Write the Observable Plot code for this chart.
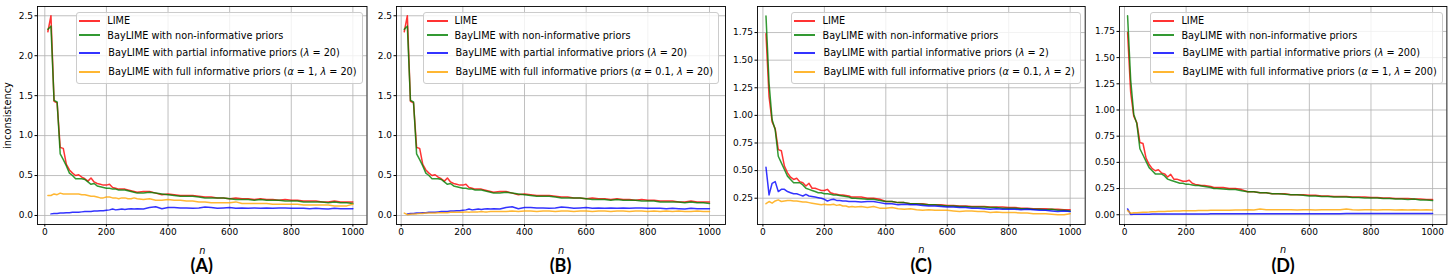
<!DOCTYPE html>
<html><head><meta charset="utf-8">
<script src="https://cdn.jsdelivr.net/npm/d3@7"></script>
<script src="https://cdn.jsdelivr.net/npm/@observablehq/plot@0.6"></script>
<style>
body{margin:0;background:#fff;}
#root{position:relative;width:1450px;height:274px;overflow:hidden;font-family:"DejaVu Sans",sans-serif;background:#fff;}
.panel{position:absolute;top:0;}
.legend{position:absolute;top:11.7px;background:rgba(255,255,255,0.8);border:1px solid #cccccc;border-radius:3px;padding:0 5px 3.4px 2.7px;font-size:9.7px;color:#000;box-sizing:border-box;}
.row{display:flex;align-items:center;white-space:nowrap;}
.swatch{width:21px;height:0;border-top:2px solid;margin-right:7px;opacity:0.8;}
.mi{font-style:italic;}
g[aria-label="x-axis label"] text{font-style:italic;font-size:9.8px;}
g[aria-label="y-axis label"] text{font-size:9.8px;}
#captions{position:absolute;left:0;top:0;}
</style>
</head><body>
<div id="root"></div>
<script>
// sample sizes n
const nValues = [10,20,30,40,50,60,70,80,90,100,110,120,130,140,150,160,170,180,190,200,
  210,220,230,240,250,260,270,280,290,300,
  320,340,360,380,400,420,440,460,480,500,
  520,540,560,580,600,620,640,660,680,700,
  720,740,760,780,800,820,840,860,880,900,
  920,940,960,980,1000];

// Panels A and B share LIME / non-informative / partial series
const limeAB = [2.30,2.50,1.43,1.41,0.85,0.84,0.64,0.57,0.53,0.50,
  0.51,0.48,0.46,0.43,0.47,0.42,0.40,0.39,0.38,0.38,
  0.39,0.35,0.34,0.33,0.33,0.33,0.32,0.31,0.30,0.29,
  0.30,0.30,0.28,0.26,0.27,0.26,0.25,0.25,0.25,0.24,
  0.23,0.23,0.22,0.22,0.21,0.22,0.21,0.21,0.20,0.21,
  0.20,0.20,0.19,0.20,0.19,0.19,0.18,0.18,0.18,0.17,
  0.17,0.18,0.17,0.17,0.17];
const nonInfAB = [2.33,2.37,1.44,1.42,0.77,0.70,0.62,0.53,0.50,0.46,
  0.46,0.46,0.45,0.42,0.39,0.40,0.37,0.36,0.35,0.34,
  0.34,0.33,0.33,0.32,0.32,0.32,0.31,0.30,0.29,0.28,
  0.28,0.29,0.28,0.27,0.26,0.25,0.24,0.24,0.24,0.23,
  0.22,0.22,0.22,0.22,0.21,0.20,0.20,0.20,0.19,0.20,
  0.19,0.19,0.19,0.18,0.18,0.18,0.17,0.17,0.17,0.17,
  0.16,0.17,0.16,0.16,0.15];
const partialAB = [null,0.02,0.025,0.025,0.03,0.03,0.035,0.035,0.04,0.04,
  0.04,0.045,0.05,0.05,0.05,0.055,0.055,0.06,0.06,0.065,
  0.07,0.08,0.07,0.075,0.08,0.075,0.08,0.085,0.08,0.085,
  0.08,0.10,0.11,0.085,0.10,0.10,0.095,0.095,0.09,0.095,
  0.105,0.10,0.09,0.095,0.10,0.09,0.095,0.09,0.095,0.09,
  0.095,0.09,0.095,0.095,0.09,0.09,0.09,0.085,0.09,0.085,
  0.08,0.09,0.085,0.085,0.085];
const fullA = [0.25,0.25,0.27,0.26,0.28,0.27,0.27,0.27,0.27,0.27,
  0.27,0.26,0.26,0.25,0.24,0.24,0.23,0.22,0.22,0.23,
  0.23,0.22,0.22,0.21,0.22,0.22,0.21,0.21,0.22,0.21,
  0.20,0.21,0.19,0.19,0.20,0.19,0.19,0.18,0.18,0.17,
  0.17,0.16,0.16,0.16,0.16,0.17,0.15,0.15,0.15,0.15,
  0.15,0.14,0.14,0.14,0.14,0.14,0.13,0.13,0.13,0.13,
  0.13,0.12,0.12,0.12,0.14];
const fullB = [0.03,0.01,0.015,0.02,0.02,0.025,0.025,0.03,0.03,0.03,
  0.03,0.035,0.035,0.035,0.035,0.04,0.04,0.04,0.04,0.04,
  0.045,0.04,0.045,0.045,0.045,0.05,0.045,0.045,0.05,0.05,
  0.05,0.05,0.055,0.05,0.055,0.055,0.05,0.055,0.055,0.05,
  0.055,0.055,0.05,0.055,0.055,0.05,0.055,0.055,0.05,0.055,
  0.055,0.05,0.055,0.055,0.05,0.055,0.05,0.055,0.05,0.055,
  0.05,0.05,0.055,0.05,0.05];

// Panels C and D share LIME / non-informative series
const limeCD = [1.74,1.17,0.94,0.88,0.69,0.68,0.54,0.48,0.44,0.42,
  0.43,0.40,0.39,0.36,0.385,0.34,0.34,0.33,0.32,0.32,
  0.33,0.30,0.29,0.285,0.28,0.28,0.275,0.27,0.26,0.26,
  0.26,0.25,0.25,0.24,0.22,0.22,0.21,0.21,0.20,0.20,
  0.20,0.19,0.19,0.19,0.185,0.185,0.18,0.18,0.175,0.175,
  0.175,0.17,0.17,0.17,0.165,0.165,0.16,0.16,0.155,0.155,
  0.155,0.15,0.15,0.145,0.145];
const nonInfCD = [1.90,1.29,0.96,0.87,0.63,0.57,0.51,0.45,0.42,0.39,
  0.39,0.39,0.37,0.34,0.33,0.32,0.31,0.30,0.30,0.29,
  0.29,0.285,0.28,0.28,0.275,0.27,0.265,0.26,0.25,0.25,
  0.245,0.24,0.24,0.23,0.22,0.22,0.21,0.21,0.20,0.20,
  0.195,0.19,0.19,0.185,0.18,0.18,0.175,0.175,0.17,0.17,
  0.17,0.165,0.165,0.16,0.16,0.16,0.155,0.155,0.15,0.15,
  0.145,0.15,0.14,0.14,0.135];
const partialC = [0.53,0.28,0.385,0.40,0.31,0.33,0.33,0.31,0.30,0.29,
  0.29,0.28,0.27,0.285,0.27,0.265,0.26,0.255,0.25,0.24,
  0.225,0.235,0.24,0.23,0.23,0.225,0.225,0.22,0.22,0.22,
  0.215,0.22,0.22,0.21,0.20,0.20,0.19,0.195,0.19,0.19,
  0.185,0.18,0.18,0.175,0.17,0.17,0.165,0.165,0.16,0.16,
  0.155,0.15,0.155,0.15,0.15,0.15,0.145,0.15,0.145,0.14,
  0.14,0.135,0.13,0.135,0.13];
const fullC = [0.20,0.22,0.205,0.225,0.235,0.22,0.225,0.23,0.23,0.225,
  0.225,0.22,0.215,0.215,0.21,0.205,0.20,0.195,0.19,0.195,
  0.19,0.19,0.195,0.185,0.19,0.18,0.18,0.17,0.175,0.17,
  0.175,0.165,0.175,0.16,0.16,0.165,0.155,0.15,0.155,0.145,
  0.14,0.145,0.14,0.14,0.14,0.135,0.13,0.135,0.135,0.13,
  0.13,0.12,0.125,0.12,0.12,0.12,0.115,0.115,0.11,0.11,
  0.11,0.105,0.10,0.10,0.11];
const partialD = [0.055,0.003,0.004,0.004,0.005,0.005,0.005,0.005,0.006,0.006,
  0.006,0.006,0.006,0.007,0.007,0.007,0.007,0.007,0.007,0.008,
  0.008,0.008,0.008,0.008,0.008,0.008,0.008,0.009,0.009,0.009,
  0.009,0.009,0.009,0.009,0.009,0.01,0.01,0.01,0.01,0.01,
  0.01,0.01,0.01,0.01,0.01,0.01,0.01,0.01,0.01,0.01,
  0.011,0.011,0.011,0.011,0.011,0.011,0.011,0.011,0.011,0.011,
  0.011,0.011,0.011,0.011,0.011];
const fullD = [0.04,0.015,0.018,0.02,0.022,0.024,0.025,0.026,0.028,0.029,
  0.03,0.031,0.032,0.033,0.034,0.035,0.035,0.036,0.037,0.038,
  0.038,0.039,0.039,0.04,0.04,0.041,0.041,0.042,0.042,0.043,
  0.043,0.044,0.045,0.045,0.047,0.046,0.054,0.047,0.047,0.048,
  0.047,0.048,0.046,0.047,0.048,0.046,0.047,0.047,0.048,0.047,
  0.054,0.047,0.046,0.048,0.047,0.046,0.047,0.047,0.046,0.047,
  0.046,0.047,0.046,0.047,0.046];

// tick labels
const xTicks = [0,200,400,600,800,1000];
const yTicksAB = [0,0.5,1,1.5,2,2.5];
const yTicksC = [0.25,0.5,0.75,1,1.25,1.5,1.75];
const yTicksD = [0,0.25,0.5,0.75,1,1.25,1.5,1.75];
const panelLabels = ["(A)","(B)","(C)","(D)"];
const seriesNames = ["LIME","BayLIME with non-informative priors","BayLIME with partial informative priors","BayLIME with full informative priors"];
const partialParams = [[["i","λ"],["t"," = 20)"]],[["i","λ"],["t"," = 20)"]],[["i","λ"],["t"," = 2)"]],[["i","λ"],["t"," = 200)"]]];
const fullParams = [
  [["i","α"],["t"," = 1, "],["i","λ"],["t"," = 20)"]],
  [["i","α"],["t"," = 0.1, "],["i","λ"],["t"," = 20)"]],
  [["i","α"],["t"," = 0.1, "],["i","λ"],["t"," = 2)"]],
  [["i","α"],["t"," = 1, "],["i","λ"],["t"," = 200)"]]
];
const colors = ["#ff0000","#008000","#0000ff","#ffa500"];

// layout (pixels)
const frames = [
  {l:37, r:366.5, xd:[-23.7,1045.8], y:yTicksAB, yd:[-0.113,2.616], fmt:".1f", series:[limeAB,nonInfAB,partialAB,fullA], lr:4},
  {l:396, r:725, xd:[-15.2,1051.9], y:yTicksAB, yd:[-0.113,2.616], fmt:".1f", series:[limeAB,nonInfAB,partialAB,fullB], lr:6},
  {l:757.3, r:1085, xd:[-17.6,1048.9], y:yTicksC, yd:[0.012,1.986], fmt:".2f", series:[limeCD,nonInfCD,partialC,fullC], lr:4.3},
  {l:1119.3, r:1446.7, xd:[-16.2,1046.4], y:yTicksD, yd:[-0.093,1.988], fmt:".2f", series:[limeCD,nonInfCD,partialD,fullD], lr:4}
];
const frameTop = 6, frameBottom = 224;

const root = document.getElementById("root");
frames.forEach((f, i) => {
  const mL = i === 0 ? 37 : 32, mR = 3;
  const grid = {stroke:"#b0b0b0", strokeOpacity:1, strokeWidth:0.8};
  const plot = Plot.plot({
    width: mL + (f.r - f.l) + mR,
    height: 274,
    marginLeft: mL, marginRight: mR, marginTop: frameTop, marginBottom: 274 - frameBottom,
    style: {fontFamily: "DejaVu Sans", fontSize: "9px", color: "#000", background: "transparent", overflow: "visible"},
    x: {domain: f.xd},
    y: {domain: f.yd},
    marks: [
      Plot.gridX(xTicks, grid),
      Plot.gridY(f.y, grid),
      Plot.axisX(xTicks, {tickSize: 2.5, tickPadding: 2, tickFormat: d3.format("d"), label: "n", labelAnchor: "center", labelArrow: "none", labelOffset: 29}),
      Plot.axisY(f.y, {tickSize: 2.5, tickPadding: 2, tickFormat: d3.format(f.fmt), label: i === 0 ? "inconsistency" : null, labelAnchor: "center", labelArrow: "none", labelOffset: 33}),
      ...f.series.map((s, k) => Plot.line(s, {x: nValues, y: s, stroke: colors[k], strokeOpacity: 0.8, strokeWidth: 1.5})),
      Plot.frame({stroke: "#000", strokeWidth: 0.9})
    ]
  });
  plot.classList.add("panel");
  plot.style.left = (f.l - mL) + "px";
  root.appendChild(plot);

  // legend
  const lg = document.createElement("div");
  lg.className = "legend";
  lg.style.right = (1450 - (f.r - f.lr)) + "px";
  const rowH = [16.6, 12, 22.8, 15.2];
  seriesNames.forEach((name, k) => {
    const row = document.createElement("div");
    row.className = "row";
    row.style.height = rowH[k] + "px";
    const sw = document.createElement("span");
    sw.className = "swatch";
    sw.style.borderTopColor = colors[k];
    row.appendChild(sw);
    const tx = document.createElement("span");
    if (k >= 2) tx.style.marginLeft = "1px";
    tx.appendChild(document.createTextNode(name + (k >= 2 ? " (" : "")));
    if (k >= 2) {
      const parts = k === 2 ? partialParams[i] : fullParams[i];
      parts.forEach(([t, s]) => {
        if (t === "i") { const m = document.createElement("span"); m.className = "mi"; m.textContent = s; tx.appendChild(m); }
        else tx.appendChild(document.createTextNode(s));
      });
    }
    row.appendChild(tx);
    lg.appendChild(row);
  });
  root.appendChild(lg);
});

// panel captions
const cap = d3.select(root).append("svg").attr("id","captions").attr("width",1450).attr("height",274);
cap.selectAll("text").data(frames).join("text")
  .attr("x", f => (f.l + f.r) / 2)
  .attr("y", 271.5)
  .attr("text-anchor", "middle")
  .attr("font-family", "Lato, 'Open Sans', sans-serif")
  .attr("font-weight", "bold")
  .attr("font-size", 18)
  .attr("fill", "#000")
  .text((f, i) => panelLabels[i]);
</script>
</body></html>
